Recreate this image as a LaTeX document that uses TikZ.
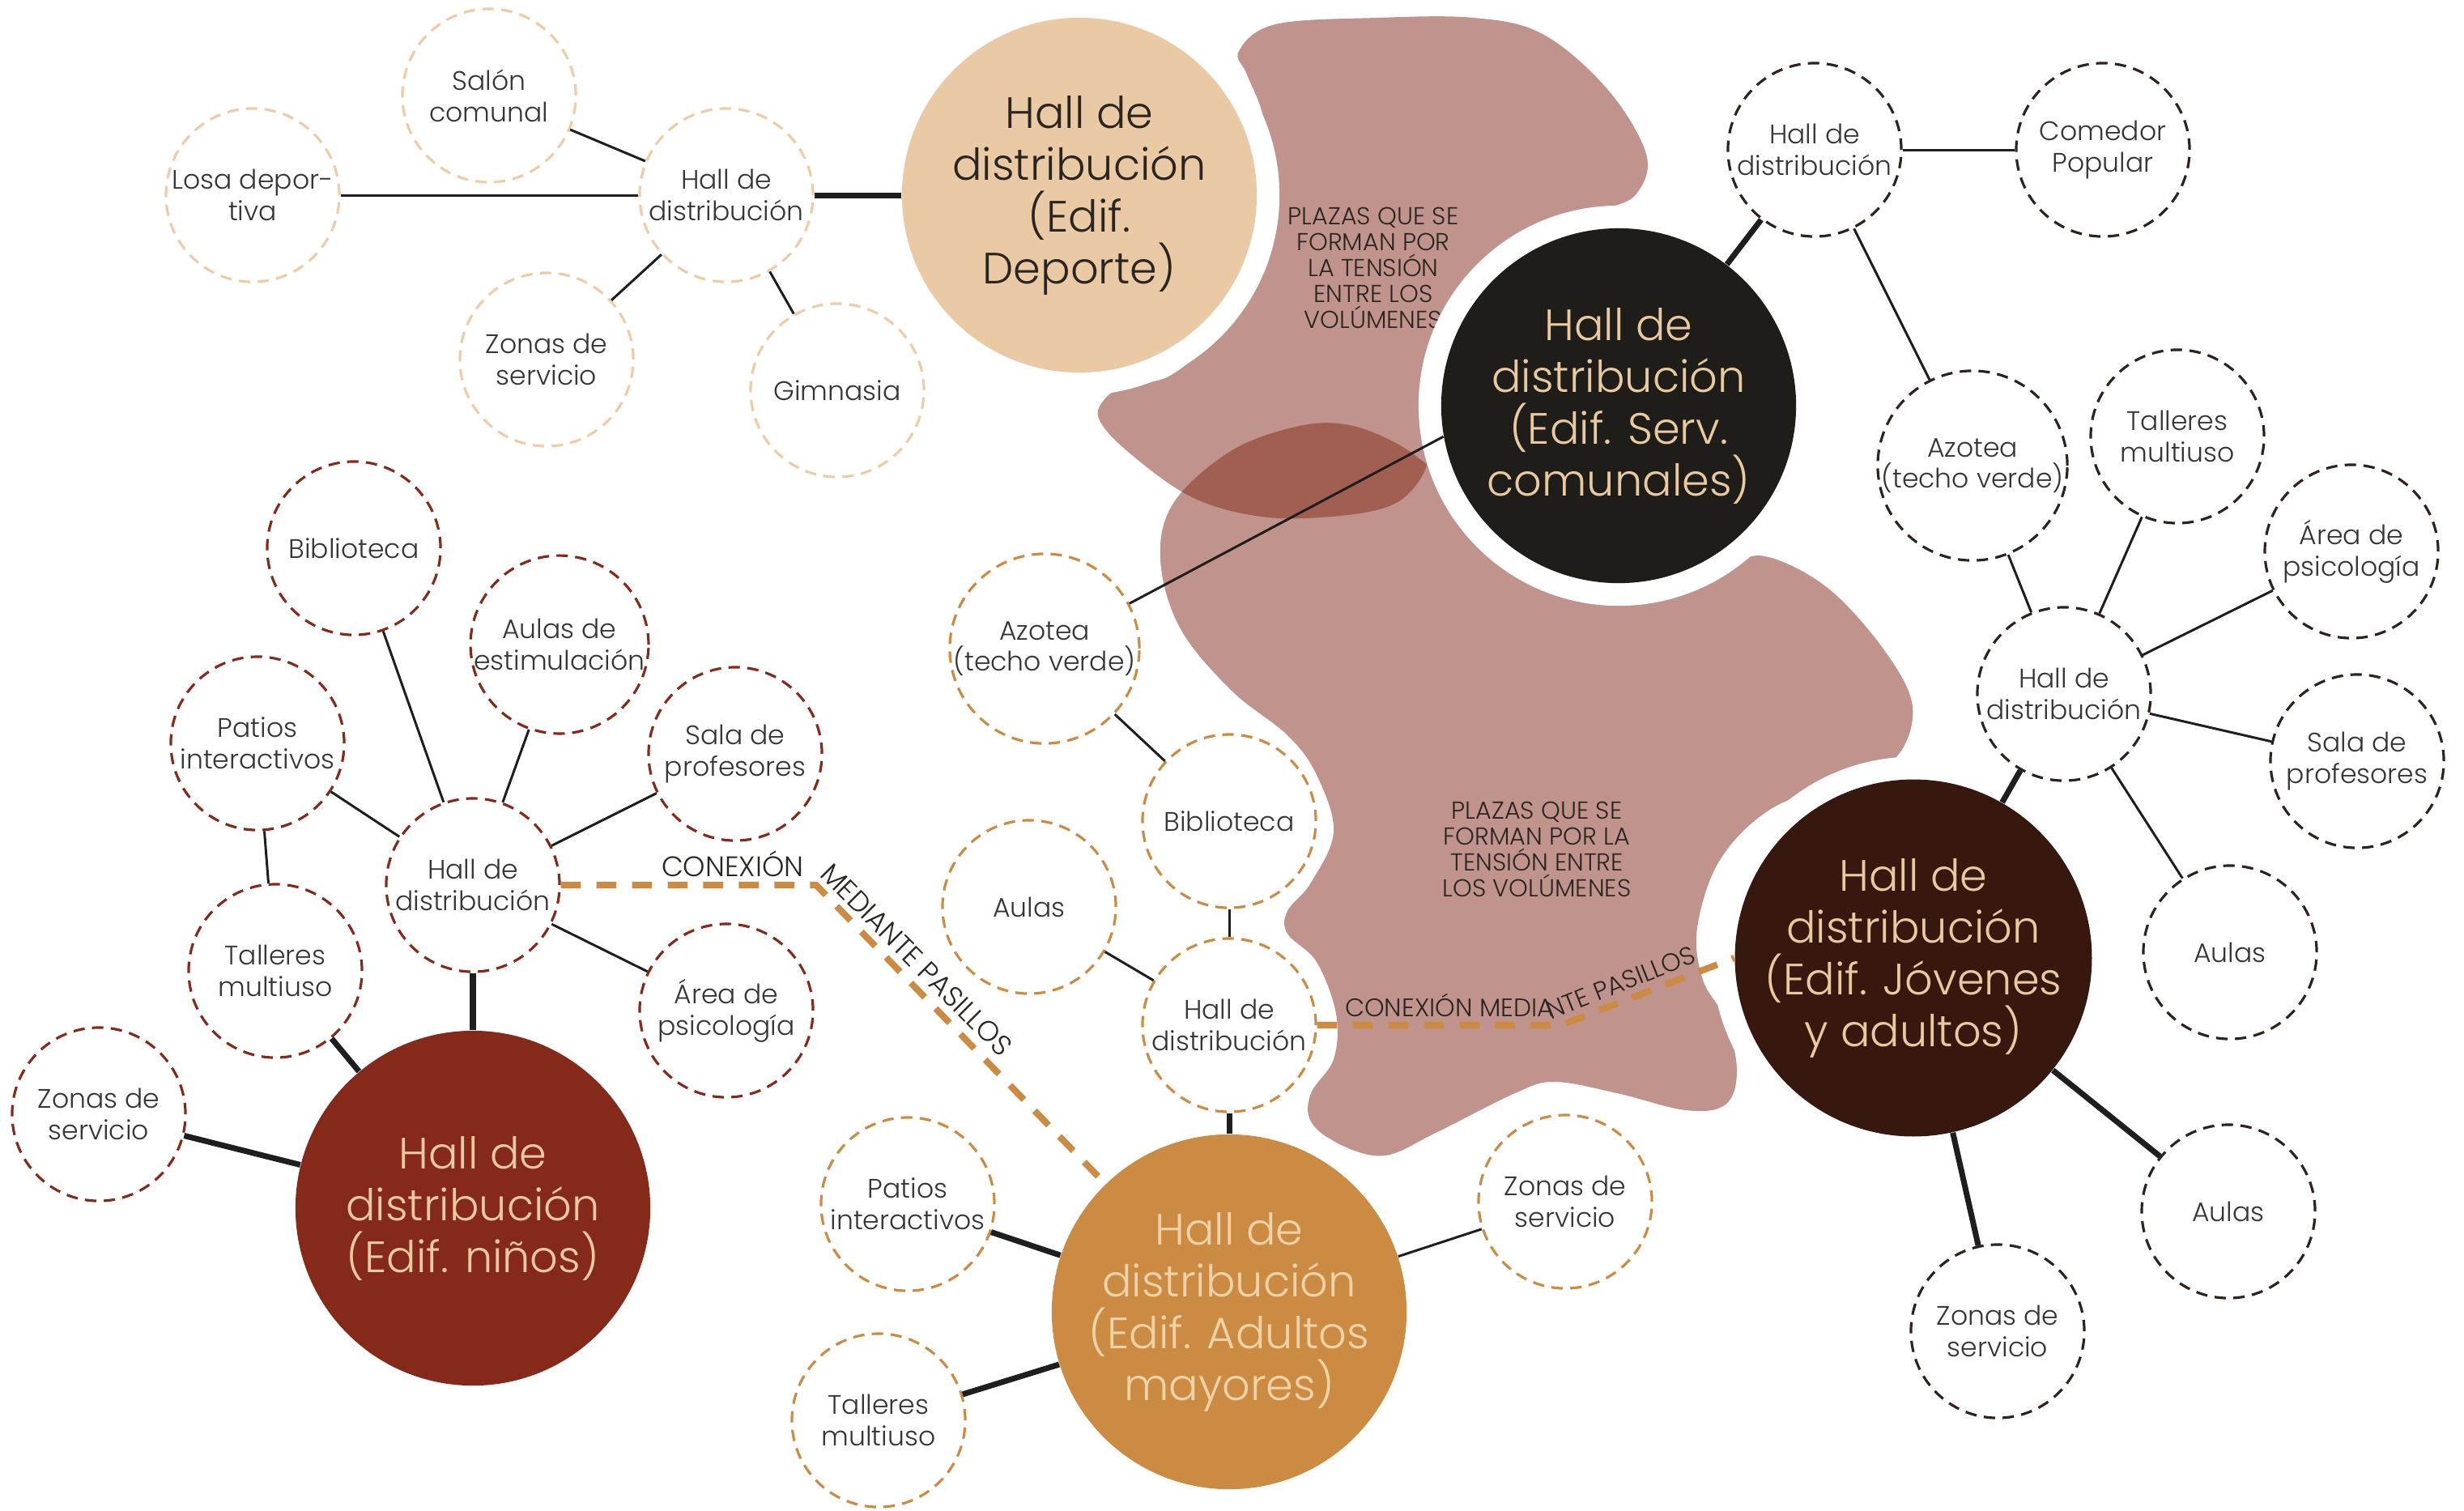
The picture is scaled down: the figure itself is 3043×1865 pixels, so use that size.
\documentclass[tikz,border=0pt]{standalone}
\usepackage{fontspec}
\IfFontExistsTF{Poppins Light}{\setmainfont{Poppins Light}}{\setmainfont{Poppins}}
\usetikzlibrary{decorations.text}
\definecolor{blob}{HTML}{C0948C}
\definecolor{blobdark}{HTML}{A15F51}
\definecolor{depc}{HTML}{E9CAA5}
\definecolor{depline}{HTML}{ECCDA8}
\definecolor{ninosc}{HTML}{85291A}
\definecolor{servc}{HTML}{1E1D19}
\definecolor{jovc}{HTML}{36180F}
\definecolor{mayc}{HTML}{CB8B43}
\definecolor{tanc}{HTML}{E8C9A0}
\definecolor{maytxt}{HTML}{F0D2A8}
\definecolor{txtc}{HTML}{353535}
\definecolor{linc}{HTML}{1E1E1E}
\definecolor{darktxt}{HTML}{2A2520}
\definecolor{rdash}{HTML}{2E221D}
\tikzset{
  smallc/.style={circle, draw=#1, line width=0.9pt, dash pattern=on 4pt off 2.6pt,
    minimum size=2.14cm, inner sep=0pt, align=center, fill=white, text=txtc,
    font=\fontsize{9.4}{11}\selectfont},
  bigc/.style={circle, fill=#1, minimum size=4.38cm, inner sep=0pt, align=center,
    font=\fontsize{15.4}{18.2}\selectfont,
    preaction={draw=white, line width=0.56cm}},
  thinc/.style={draw=linc, line width=0.85pt},
  thickc/.style={draw=linc, line width=2pt},
  pasillo/.style={draw=mayc, line width=2.3pt, dash pattern=on 7pt off 5.5pt},
  plaza/.style={align=center, text=darktxt, font=\fontsize{8.6}{9.1}\selectfont},
}
\def\upperblob{plot[smooth cycle, tension=0.6] coordinates {
 (1530,63) (1575,30) (1700,22) (1820,22) (1905,42) (1985,110) (2033,190) (2022,238)
 (1985,258) (1910,285) (1825,345) (1780,410) (1762,490) (1765,560) (1748,600)
 (1713,626) (1644,638) (1558,638) (1472,614) (1392,557) (1357,517) (1365,492)
 (1390,477) (1443,465) (1489,425) (1530,356) (1560,287) (1568,218) (1560,144) (1540,92)}}
\def\lowerblob{plot[smooth cycle, tension=0.6] coordinates {
 (1450,620) (1520,557) (1600,527) (1661,524) (1720,545) (1770,580) (1850,650)
 (1950,720) (2060,720) (2130,700) (2180,687) (2257,726) (2327,803) (2362,873)
 (2341,936) (2278,964) (2187,999) (2124,1062) (2096,1146) (2103,1210) (2131,1259)
 (2145,1322) (2131,1364) (2082,1371) (1997,1350) (1920,1336) (1871,1350) (1773,1399)
 (1710,1427) (1654,1413) (1619,1385) (1619,1350) (1647,1308) (1650,1252) (1626,1188)
 (1590,1153) (1590,1125) (1619,1090) (1647,1027) (1626,957) (1590,908) (1520,852)
 (1457,775) (1433,690)}}
\begin{document}
\begin{tikzpicture}[x=0.01cm, y=-0.01cm]
\useasboundingbox (0,0) rectangle (3043,1865);
% blobs
\fill[blob] \upperblob;
\fill[blob] \lowerblob;
\begin{scope}
  \clip \upperblob;
  \fill[blobdark] \lowerblob;
\end{scope}
\node[plaza] (plaza1) at (1696,331) {PLAZAS QUE SE\\FORMAN POR\\LA TENSIÓN\\ENTRE LOS\\VOLÚMENES};
\node[plaza] (plaza2) at (1898,1049) {PLAZAS QUE SE\\FORMAN POR LA\\TENSIÓN ENTRE\\LOS VOLÚMENES};

% big circles
\node[bigc=depc, text=darktxt] (dep) at (1333,241) {Hall de\\distribución\\(Edif.\\Deporte)};
\node[bigc=servc, text=tanc] (serv) at (1999,501) {Hall de\\distribución\\(Edif. Serv.\\comunales)};
\node[bigc=jovc, text=tanc] (jov) at (2363,1183) {Hall de\\distribución\\(Edif. Jóvenes\\y adultos)};
\node[bigc=ninosc, text=tanc] (ninos) at (584,1492) {Hall de\\distribución\\(Edif. niños)};
\node[bigc=mayc, text=maytxt] (may) at (1518,1620) {Hall de\\distribución\\(Edif. Adultos\\mayores)};

% Deporte group
\node[smallc=depline] (dhall) at (897,241) {Hall de\\distribución};
\node[smallc=depline] (dsalon) at (604,118) {Salón\\comunal};
\node[smallc=depline] (dlosa) at (312,241) {Losa depor-\\tiva};
\node[smallc=depline] (dzonas) at (675,444) {Zonas de\\servicio};
\node[smallc=depline] (dgim) at (1034,482) {Gimnasia};

% Serv. comunales / Jovenes group
\node[smallc=rdash] (shall) at (2241,185) {Hall de\\distribución};
\node[smallc=rdash] (scom) at (2597,185) {Comedor\\Popular};
\node[smallc=rdash] (azr) at (2436,575) {Azotea\\(techo verde)};
\node[smallc=rdash] (jtall) at (2689,539) {Talleres\\multiuso};
\node[smallc=rdash] (jarea) at (2904,681) {Área de\\psicología};
\node[smallc=rdash] (jhall) at (2549,857) {Hall de\\distribución};
\node[smallc=rdash] (jsala) at (2911,940) {Sala de\\profesores};
\node[smallc=rdash] (jaulas) at (2754,1176) {Aulas};
\node[smallc=rdash] (jaulasb) at (2752,1496) {Aulas};
\node[smallc=rdash] (jzonas) at (2467,1644) {Zonas de\\servicio};

% Adultos mayores group
\node[smallc=mayc] (azm) at (1290,801) {Azotea\\(techo verde)};
\node[smallc=mayc] (mbib) at (1518,1014) {Biblioteca};
\node[smallc=mayc] (maulas) at (1271,1120) {Aulas};
\node[smallc=mayc] (mhall) at (1518,1266) {Hall de\\distribución};
\node[smallc=mayc] (mpatios) at (1121,1487) {Patios\\interactivos};
\node[smallc=mayc] (mtall) at (1085,1754) {Talleres\\multiuso};
\node[smallc=mayc] (mzonas) at (1933,1484) {Zonas de\\servicio};

% Ninos group
\node[smallc=ninosc] (nbib) at (437,677) {Biblioteca};
\node[smallc=ninosc] (naulas) at (691,796) {Aulas de\\estimulación};
\node[smallc=ninosc] (npatios) at (318,918) {Patios\\interactivos};
\node[smallc=ninosc] (nsala) at (908,931) {Sala de\\profesores};
\node[smallc=ninosc] (nhall) at (584,1093) {Hall de\\distribución};
\node[smallc=ninosc] (ntall) at (340,1199) {Talleres\\multiuso};
\node[smallc=ninosc] (narea) at (897,1248) {Área de\\psicología};
\node[smallc=ninosc] (nzonas) at (122,1376) {Zonas de\\servicio};

% connectors Deporte
\draw[thickc] (dhall) -- (dep);
\draw[thinc] (dhall) -- (dsalon);
\draw[thinc] (dhall) -- (dlosa);
\draw[thinc] (dhall) -- (dzonas);
\draw[thinc] (dhall) -- (dgim);
% connectors Serv
\draw[thickc] (shall) -- (serv);
\draw[thinc] (shall) -- (scom);
\draw[thinc] (shall) -- (azr);
\draw[thinc] (serv.190) -- (azm);
% connectors Jovenes
\draw[thinc] (azr) -- (jhall);
\draw[thinc] (jtall) -- (jhall);
\draw[thinc] (jarea) -- (jhall);
\draw[thinc] (jsala) -- (jhall);
\draw[thinc] (jaulas) -- (jhall);
\draw[thickc] (jhall) -- (jov);
\draw[thickc] (jov) -- (jaulasb);
\draw[thickc] (jov) -- (jzonas);
% connectors Adultos mayores
\draw[thinc] (azm) -- (mbib);
\draw[thinc] (mbib) -- (mhall);
\draw[thinc] (maulas) -- (mhall);
\draw[thickc] (mhall) -- (may);
\draw[thickc] (mpatios) -- (may);
\draw[thickc] (mtall) -- (may);
\draw[thinc] (mzonas) -- (may);
% connectors ninos
\draw[thinc] (nhall) -- (nbib);
\draw[thinc] (nhall) -- (naulas);
\draw[thinc] (nhall) -- (npatios);
\draw[thinc] (nhall) -- (nsala);
\draw[thinc] (nhall) -- (narea);
\draw[thickc] (nhall) -- (ninos);
\draw[thinc] (npatios) -- (ntall);
\draw[thickc] (ntall) -- (ninos);
\draw[thickc] (nzonas) -- (ninos);

% pasillos
\coordinate (c1) at (1008,1093);
\coordinate (c2) at (1928,1266);
\coordinate (t1) at (817,1093);
\coordinate (t1e) at (1400,1486);
\coordinate (t2) at (1661,1266);
\coordinate (t2e) at (2230,1146);
\draw[pasillo] (nhall.east) -- (c1) -- (may);
\draw[pasillo] (mhall.east) -- (c2) -- (jov.west);
\path[decorate, decoration={text along path, raise=3pt,
  text={|\fontsize{9.9}{11}\selectfont\color{darktxt}|CONEXIÓN MEDIANTE PASILLOS}}]
  (t1) -- (c1) -- (t1e);
\path[decorate, decoration={text along path, raise=3pt,
  text={|\fontsize{8.9}{10}\selectfont\color{darktxt}|CONEXIÓN MEDIANTE PASILLOS}}]
  (t2) -- (c2) -- (t2e);
\end{tikzpicture}
\end{document}
